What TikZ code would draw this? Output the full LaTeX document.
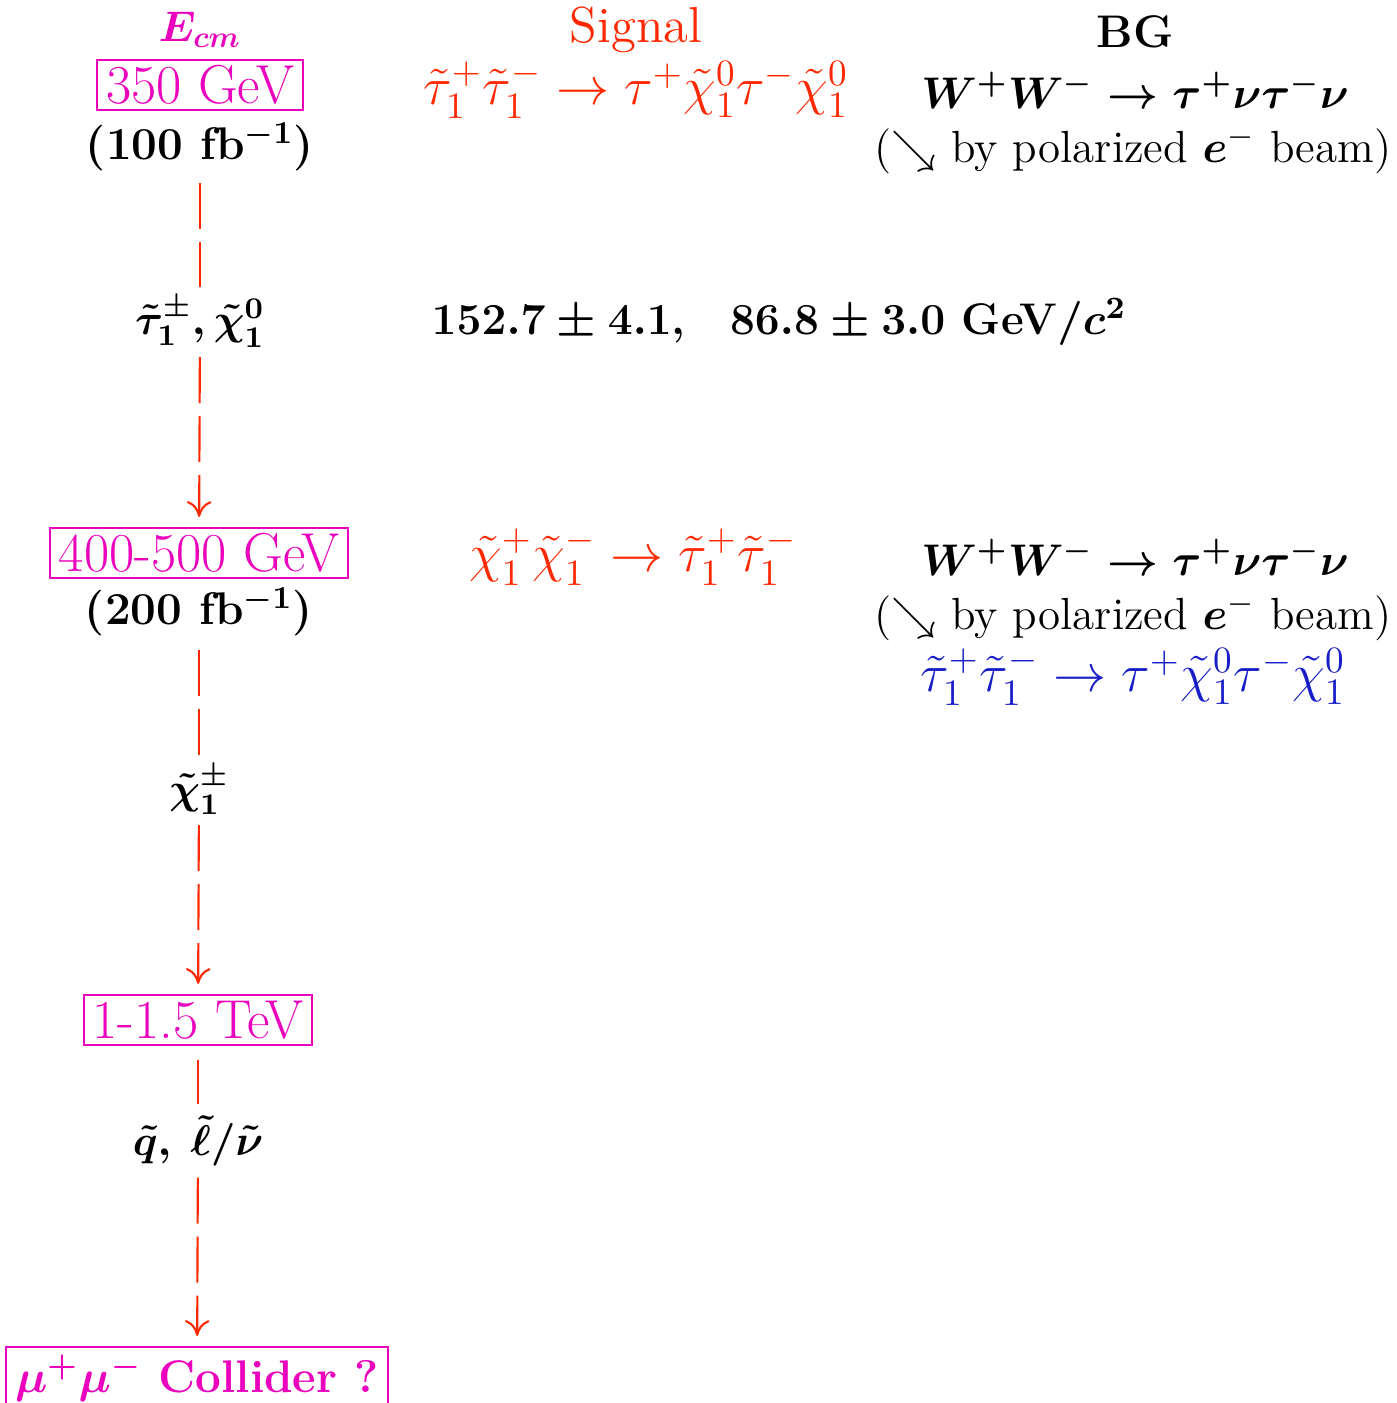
\RequirePackage{fix-cm}
\documentclass[tikz,border=0pt]{standalone}
\usepackage{amsmath,amssymb}
\usetikzlibrary{arrows.meta,positioning}
\definecolor{ecmpink}{RGB}{235,0,190}
\definecolor{sigred}{RGB}{255,40,0}
\definecolor{bgblue}{RGB}{25,30,200}
\tikzset{
  ebox/.style={draw=ecmpink,text=ecmpink,line width=0.6pt,inner xsep=0.09cm,inner ysep=0pt,
    minimum height=0.5cm,font=\fontsize{15.6}{18}\selectfont},
  flow/.style={draw=sigred,line width=0.6pt,dash pattern=on 0.46cm off 0.13cm},
}

\begin{document}
\begin{tikzpicture}[x=0.01cm,y=-0.01cm,>={To[length=4.5pt,width=7pt]},
   lbl/.style={font=\fontsize{13}{16}\selectfont\bfseries\boldmath},
   big/.style={font=\fontsize{12.6}{16}\selectfont\bfseries\boldmath},
   mid/.style={font=\fontsize{12.2}{15}\selectfont\bfseries\boldmath,inner sep=0pt,outer sep=0pt,minimum height=0.7cm},
   sig/.style={text=sigred,font=\fontsize{15.1}{18}\selectfont},
   pol/.style={font=\fontsize{12.8}{15}\selectfont}]
  \useasboundingbox (0,0) rectangle (1396,1403);
  % left column: energies
  \node[mid,text=ecmpink] (ecm) at (200,30) {$E_{cm}$};
  \node[ebox] (e350) at (200,85) {350 GeV};
  \node[lbl,inner sep=0pt,outer sep=0pt,minimum height=0.72cm] (lum1) at (200,147) {(100 fb$^{-1}$)};
  \node[mid] (m1) at (200,322) {$\tilde\tau_1^\pm, \tilde\chi_1^0$};
  \node[ebox] (e450) at (199,553) {400-500 GeV};
  \node[lbl,inner sep=0pt,outer sep=0pt,minimum height=0.76cm] (lum2) at (199,612) {(200 fb$^{-1}$)};
  \node[mid] (m2) at (199,790) {$\tilde\chi_1^\pm$};
  \node[ebox] (e1tev) at (198,1020) {1-1.5 TeV};
  \node[mid,minimum height=0.73cm] (m3) at (198,1141) {$\tilde q,\:\tilde\ell/\tilde\nu$};
  \node[ebox,font=\fontsize{13}{16}\selectfont\bfseries\boldmath,minimum height=0.62cm] (emu) at (197,1378) {$\mu^+\mu^-$ Collider ?};
  \foreach \a/\b in {lum1/m1,lum2/m2} \draw[flow] (\a) -- (\b);
  \draw[flow,shorten <=0.14cm] (e1tev) -- (m3);
  \foreach \a/\b in {m1/e450,m2/e1tev,m3/emu} \draw[flow,->,shorten >=0.1cm] (\a) -- (\b);
  % signal and background
  \node[sig,font=\fontsize{14.4}{18}\selectfont] (sigt) at (636,30) {Signal};
  \node[lbl] (bgt) at (1135,32) {BG};
  \node[sig] (sig1) at (636,90) {$\tilde\tau_1^+\tilde\tau_1^- \to \tau^+\tilde\chi_1^0\tau^-\tilde\chi_1^0$};
  \node[big] (bg1) at (1135,90) {$W^+W^- \to \tau^+\nu\tau^-\nu$};
  \node[pol] (pol1) at (1133,150) {($\searrow$ by polarized $\boldsymbol{e}^-$ beam)};
  \node[big] (mass) at (779,322) {$152.7\pm4.1$,\quad $86.8\pm3.0$ GeV$/c^2$};
  \node[sig] (sig2) at (633,557) {$\tilde\chi_1^+\tilde\chi_1^- \to \tilde\tau_1^+\tilde\tau_1^-$};
  \node[big] (bg2) at (1135,557) {$W^+W^- \to \tau^+\nu\tau^-\nu$};
  \node[pol] (pol2) at (1133,617) {($\searrow$ by polarized $\boldsymbol{e}^-$ beam)};
  \node[sig,text=bgblue] (bg3) at (1133,677) {$\tilde\tau_1^+\tilde\tau_1^- \to \tau^+\tilde\chi_1^0\tau^-\tilde\chi_1^0$};
\end{tikzpicture}
\end{document}
